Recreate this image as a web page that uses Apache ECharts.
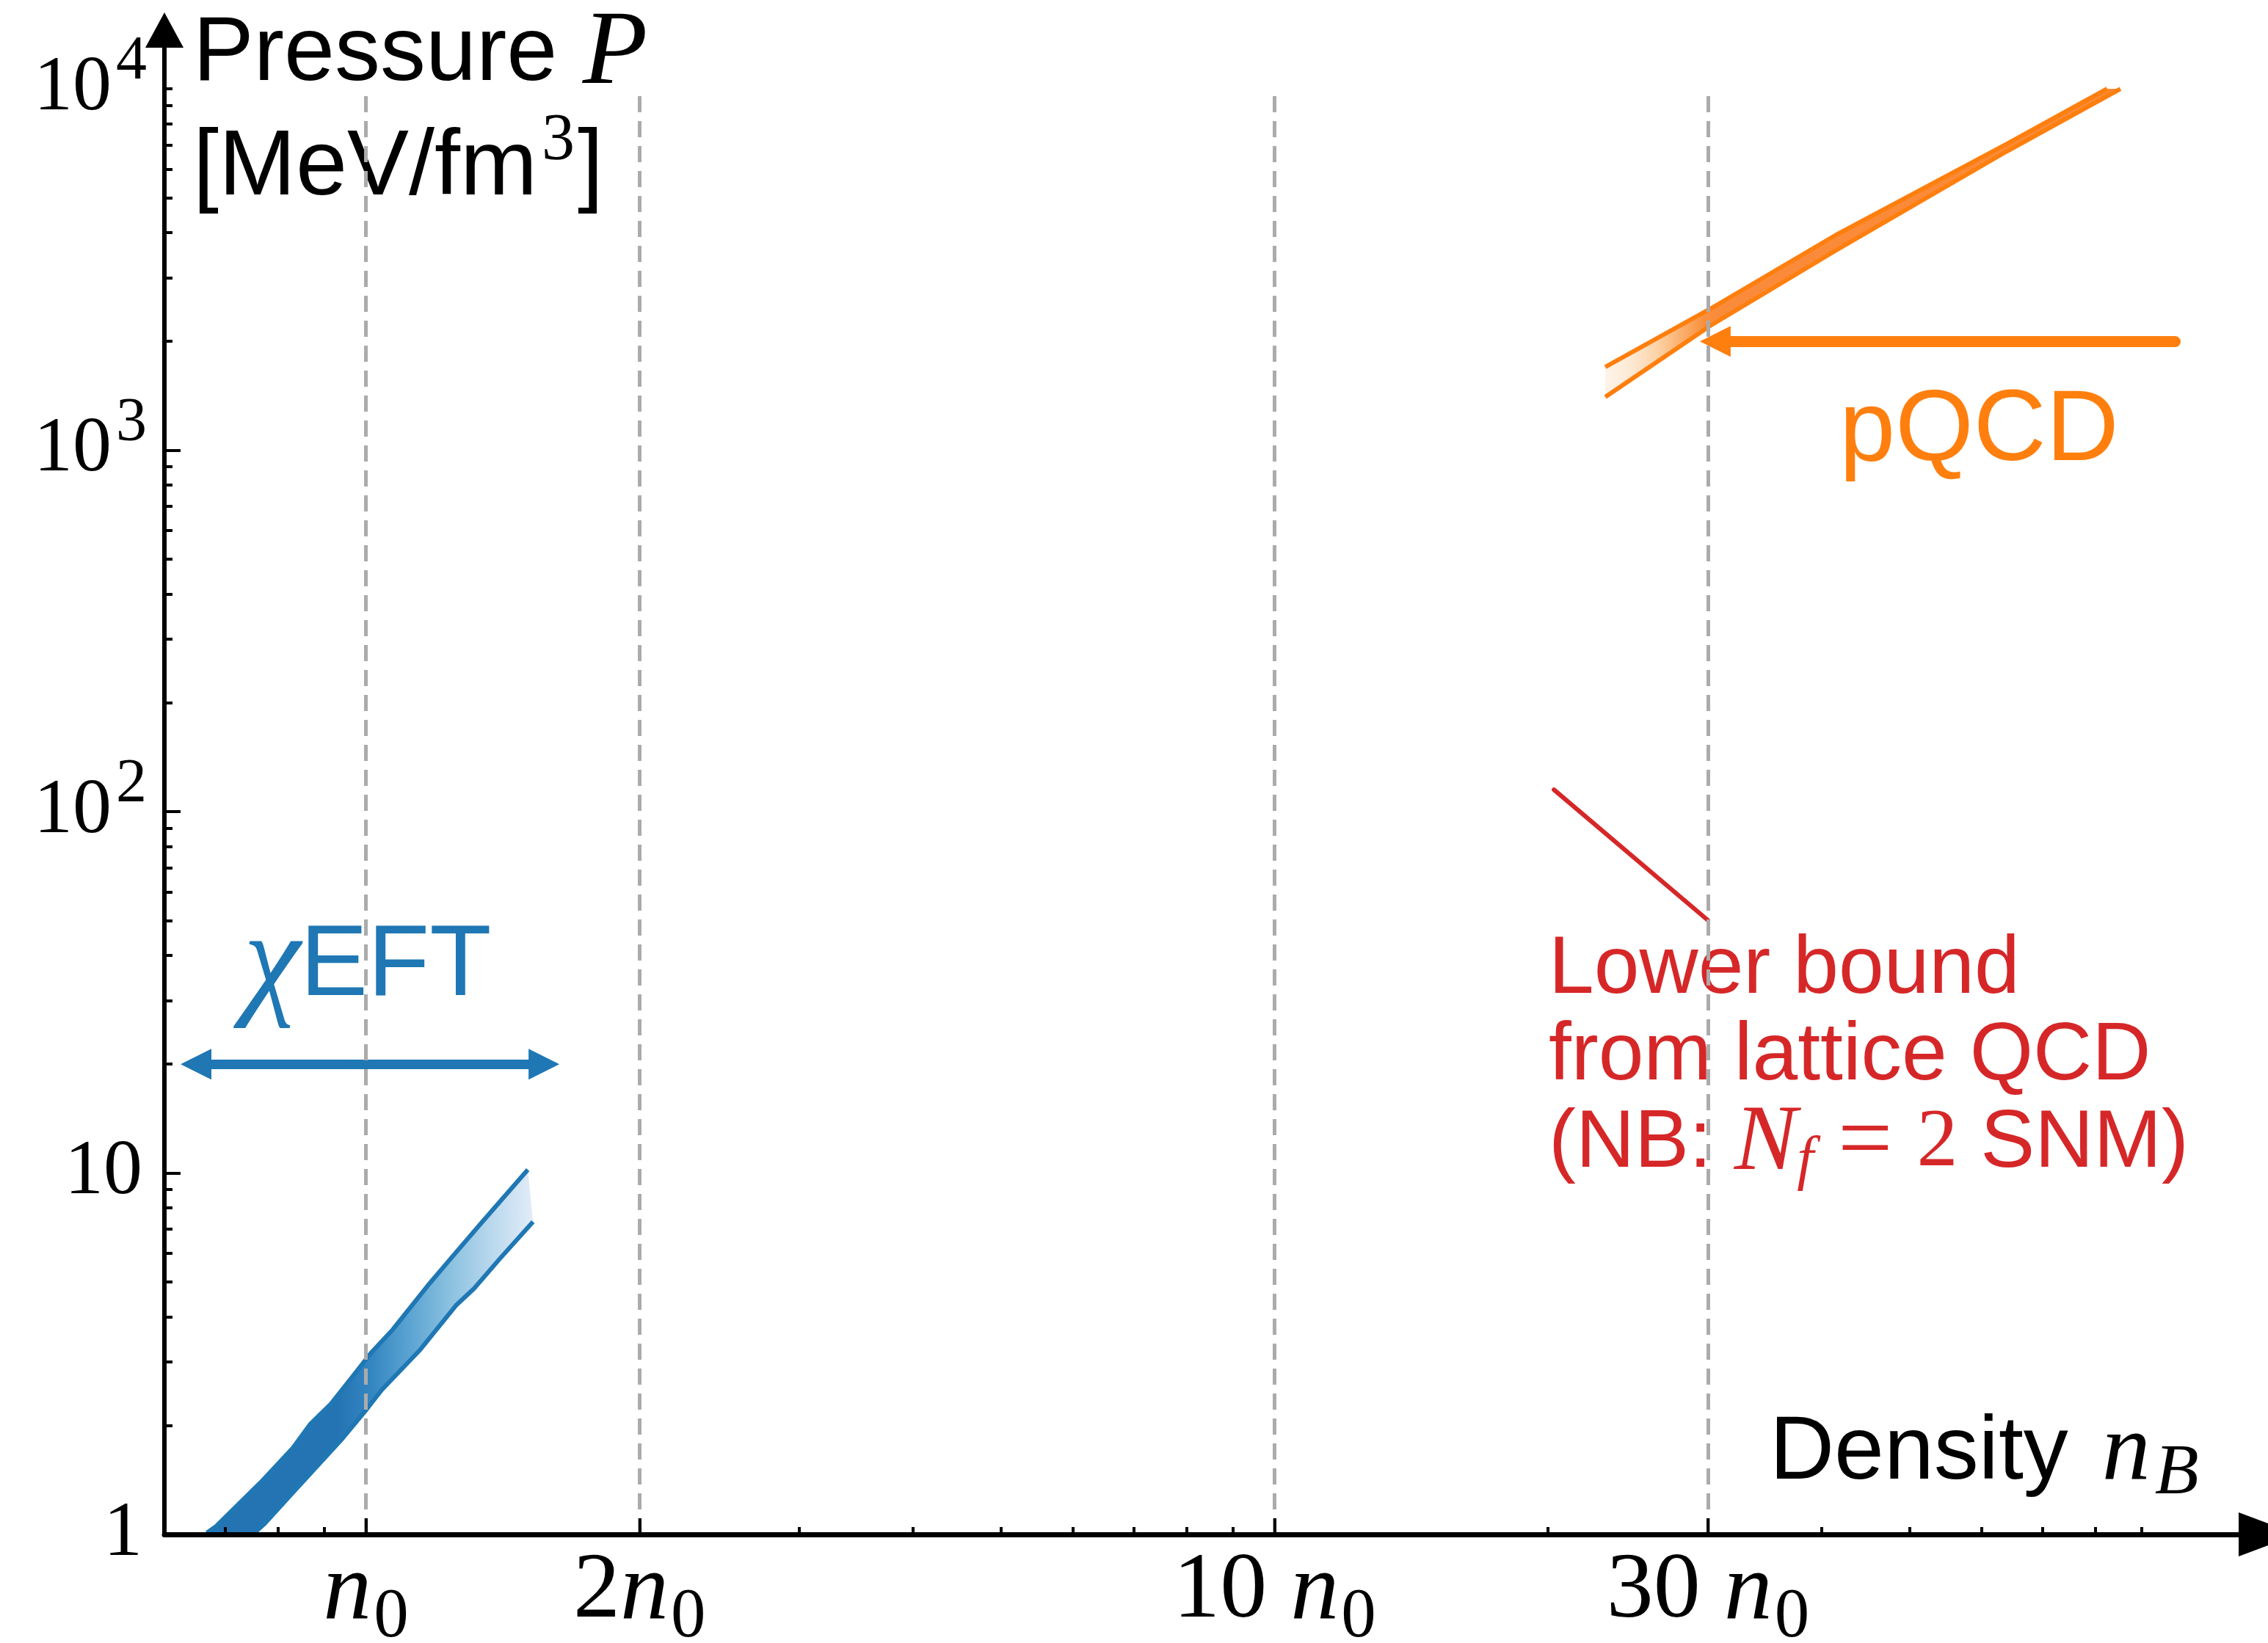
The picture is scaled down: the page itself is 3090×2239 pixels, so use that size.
<!DOCTYPE html>
<html><head><meta charset="utf-8">
<script src="https://cdn.jsdelivr.net/npm/echarts@6/dist/echarts.min.js"></script>
<style>html,body{margin:0;padding:0;background:#fff}#c{width:3090px;height:2239px}</style>
</head><body><div id="c"></div>
<script>
// ---------- data ----------
const xRange = [0.6, 124];          // density axis extent (units of n0)
const yRange = [1, 14536];          // pressure axis extent (MeV/fm^3)
const xMajorTicks = [1, 2, 10, 30];
const xTickLabels = ['{n|n}{s|0}', '{r|2}{n|n}{s|0}', '{r|10 }{n|n}{s|0}', '{r|30 }{n|n}{s|0}'];
const xMinorTicks = [0.7, 0.8, 0.9, 3, 4, 5, 6, 7, 8, 9, 20, 40, 50, 60, 70, 80, 90];
const yMajorTicks = [1, 10, 100, 1000];
const yLabelValues = [1, 10, 100, 1000, 10000];
const yTickLabels = ['{r|1}', '{r|10}', '{r|10}{s|2}', '{r|10}{s|3}', '{r|10}{s|4}'];
const yMinorTicks = [2, 3, 4, 5, 6, 7, 8, 9, 20, 30, 40, 50, 60, 70, 80, 90,
  200, 300, 400, 500, 600, 700, 800, 900, 2000, 3000, 4000, 5000, 6000, 7000, 8000, 9000, 10000];
const densityMarks = [1, 2, 10, 30];
const yTop = 10000;

const eftUpper = [[0.668, 1.01], [0.684, 1.053], [0.766, 1.394], [0.831, 1.736], [0.868, 2.017],
  [0.915, 2.298], [0.968, 2.746], [1.014, 3.189], [1.070, 3.686], [1.175, 4.948], [1.242, 5.83],
  [1.343, 7.33], [1.507, 10.21]];
const eftLower = [[0.754, 1.01], [0.774, 1.073], [0.831, 1.305], [0.938, 1.819], [1.001, 2.214],
  [1.041, 2.512], [1.148, 3.249], [1.256, 4.30], [1.315, 4.79], [1.402, 5.77], [1.527, 7.33]];
const pqcdUpper = [[23.12, 1700], [30.16, 2460], [41.38, 3926], [63.8, 7011], [82.5, 10000]];
const pqcdLower = [[23.12, 1404], [30.16, 2209], [41.38, 3558], [63.8, 6689], [85.3, 10000]];
const latticeBound = [[20.3, 115], [30, 50]];
const eftArrow = [[0.65, 20], [1.57, 20]];
const pqcdArrow = [[98, 2000], [30.55, 2000]];

// ---------- style ----------
const C0 = '#1f77b4', C1 = '#ff7f0e', C3 = '#d62728';
const serif = "'Liberation Serif', 'DejaVu Serif', serif";
const sans = "'Liberation Sans', Arial, sans-serif";

function nearestIndex(arr, v) {
  let best = 0, bd = Infinity;
  arr.forEach((t, i) => { const d = Math.abs(Math.log10(t) - Math.log10(v)); if (d < bd) { bd = d; best = i; } });
  return best;
}

function bandSeries(upper, lower, fill, z) {
  return {
    type: 'custom', coordinateSystem: 'cartesian2d', xAxisIndex: 0, yAxisIndex: 0,
    clip: true, silent: true, z: z,
    data: [upper[0]],
    renderItem: function (params, api) {
      const pts = upper.map(p => api.coord(p)).concat(lower.slice().reverse().map(p => api.coord(p)));
      return { type: 'polygon', shape: { points: pts }, style: { fill: fill, stroke: null, lineWidth: 0 } };
    }
  };
}
function edge(data, color, width) {
  return { type: 'line', data: data, symbol: 'none', showSymbol: false, silent: true, z: 4,
    lineStyle: { color: color, width: width, cap: 'butt', join: 'round' } };
}

const eftFill = new echarts.graphic.LinearGradient(0, 0, 1, 0, [
  { offset: 0, color: '#2474b3' }, { offset: 0.4, color: '#2474b3' }, { offset: 0.5, color: '#3385c0' },
  { offset: 0.62, color: '#5aa3d2' }, { offset: 0.75, color: '#8cc2e0' }, { offset: 0.88, color: '#bcd9ee' },
  { offset: 1, color: '#e2ecf8' }]);
const pqcdFill = new echarts.graphic.LinearGradient(0, 0, 1, 0, [
  { offset: 0, color: '#fef4ea' }, { offset: 0.05, color: '#fde9d4' }, { offset: 0.1, color: '#fcd3a8' },
  { offset: 0.15, color: '#faae6b' }, { offset: 0.19, color: '#f9913f' }, { offset: 0.22, color: '#fa8b3a' },
  { offset: 1, color: '#fb8a38' }]);

const option = {
  backgroundColor: '#fff',
  animation: false,
  grid: { left: 224, right: 0, top: 41, bottom: 148, containLabel: false, outerBoundsMode: 'none' },
  xAxis: [
    { type: 'log', logBase: 10, min: xRange[0], max: xRange[1], position: 'bottom', z: 10,
      axisLine: { show: true, onZero: false, symbol: ['none', 'triangle'], symbolSize: [60, 80],
        lineStyle: { color: '#000', width: 7 } },
      axisTick: { show: true, inside: true, length: 22, customValues: xMajorTicks, lineStyle: { color: '#000', width: 4 } },
      axisLabel: { show: true, customValues: xMajorTicks, margin: 14, color: '#000',
        formatter: v => xTickLabels[nearestIndex(xMajorTicks, v)],
        rich: {
          r: { fontFamily: serif, fontSize: 128, lineHeight: 128, verticalAlign: 'top', color: '#000' },
          n: { fontFamily: serif, fontStyle: 'italic', fontSize: 132, lineHeight: 128, verticalAlign: 'top', color: '#000' },
          s: { fontFamily: serif, fontSize: 95, lineHeight: 56, height: 56, verticalAlign: 'bottom', color: '#000', padding: [0, 0, 0, 3] }
        } },
      splitLine: { show: false }, minorTick: { show: false } },
    { type: 'log', logBase: 10, min: xRange[0], max: xRange[1], position: 'bottom', z: 10,
      axisLine: { show: false, onZero: false },
      axisTick: { show: true, inside: true, length: 10, customValues: xMinorTicks, lineStyle: { color: '#000', width: 4 } },
      axisLabel: { show: false }, splitLine: { show: false } }
  ],
  yAxis: [
    { type: 'log', logBase: 10, min: yRange[0], max: yRange[1], position: 'left', z: 10,
      axisLine: { show: true, onZero: false, symbol: ['none', 'triangle'], symbolSize: [52, 48],
        lineStyle: { color: '#000', width: 6 } },
      axisTick: { show: true, inside: true, length: 22, customValues: yMajorTicks, lineStyle: { color: '#000', width: 4 } },
      axisLabel: { show: true, customValues: yLabelValues, margin: 24, color: '#000',
        formatter: v => yTickLabels[nearestIndex(yLabelValues, v)],
        rich: {
          r: { fontFamily: serif, fontSize: 106, lineHeight: 106, verticalAlign: 'middle', color: '#000', padding: [0, 6, 0, 0] },
          s: { fontFamily: serif, fontSize: 84, lineHeight: 34, height: 34, verticalAlign: 'top', color: '#000' }
        } },
      splitLine: { show: false }, minorTick: { show: false } },
    { type: 'log', logBase: 10, min: yRange[0], max: yRange[1], position: 'left', z: 10,
      axisLine: { show: false, onZero: false },
      axisTick: { show: true, inside: true, length: 11, customValues: yMinorTicks, lineStyle: { color: '#000', width: 4 } },
      axisLabel: { show: false }, splitLine: { show: false } }
  ],
  series: [
    bandSeries(eftUpper, eftLower, eftFill, 2),
    bandSeries(pqcdUpper, pqcdLower, pqcdFill, 2),
    edge(eftUpper, C0, 6), edge(eftLower, C0, 6),
    edge(pqcdUpper, C1, 6), edge(pqcdLower, C1, 6),
    { type: 'line', data: latticeBound, symbol: 'none', showSymbol: false, silent: true, z: 4,
      lineStyle: { color: C3, width: 6, cap: 'round' } },
    { type: 'lines', coordinateSystem: 'cartesian2d', xAxisIndex: 0, yAxisIndex: 0, silent: true, z: 4,
      symbol: ['triangle', 'triangle'], symbolSize: 42,
      lineStyle: { color: C0, width: 13, opacity: 1, curveness: 0 },
      data: [{ coords: eftArrow }] },
    { type: 'lines', coordinateSystem: 'cartesian2d', xAxisIndex: 0, yAxisIndex: 0, silent: true, z: 4,
      symbol: ['none', 'triangle'], symbolSize: 42,
      lineStyle: { color: C1, width: 15, opacity: 1, curveness: 0, cap: 'round' },
      data: [{ coords: pqcdArrow }] },
    { type: 'line', data: [[densityMarks[0], yRange[0]]], symbol: 'none', showSymbol: false, silent: true, z: 6,
      lineStyle: { opacity: 0 },
      markLine: { silent: true, symbol: ['none', 'none'], label: { show: false }, animation: false,
        lineStyle: { color: '#ababab', width: 5, type: [22, 12] },
        data: densityMarks.map(v => [{ coord: [v, yRange[0]] }, { coord: [v, yTop] }]) } }
  ],
  graphic: [
    { type: 'text', x: 263, y: 75, z: 1, silent: true,
      style: { text: '{a|Pressure }{p|P}', align: 'left', verticalAlign: 'middle',
        rich: { a: { fontFamily: sans, fontSize: 124, lineHeight: 140, verticalAlign: 'middle', fill: '#000' },
                p: { fontFamily: serif, fontStyle: 'italic', fontSize: 145, lineHeight: 140, verticalAlign: 'middle', fill: '#000' } } } },
    { type: 'text', x: 263, y: 230, z: 1, silent: true,
      style: { text: '{a|[MeV/fm}{s|3}{a|]}', align: 'left', verticalAlign: 'middle',
        rich: { a: { fontFamily: sans, fontSize: 126, lineHeight: 140, verticalAlign: 'middle', fill: '#000' },
                s: { fontFamily: serif, fontSize: 90, lineHeight: 66, height: 66, verticalAlign: 'top', fill: '#000', padding: [0, 4, 0, 6] } } } },
    { type: 'text', x: 2411, y: 1981, z: 1, silent: true,
      style: { text: '{a|Density }{n|n}{b|B}', align: 'left', verticalAlign: 'middle',
        rich: { a: { fontFamily: sans, fontSize: 122, lineHeight: 140, verticalAlign: 'middle', fill: '#000' },
                n: { fontFamily: serif, fontStyle: 'italic', fontSize: 132, lineHeight: 140, verticalAlign: 'middle', fill: '#000', padding: [0, 0, 0, 12] },
                b: { fontFamily: serif, fontStyle: 'italic', fontSize: 98, lineHeight: 84, height: 84, verticalAlign: 'bottom', fill: '#000', padding: [0, 0, 0, 6] } } } },
    { type: 'text', x: 332, y: 1318, z: 1, silent: true,
      style: { text: '{c|χ}{a|EFT}', align: 'left', verticalAlign: 'middle',
        rich: { a: { fontFamily: sans, fontSize: 138, lineHeight: 150, verticalAlign: 'middle', fill: C0 },
                c: { fontFamily: serif, fontStyle: 'italic', fontSize: 175, lineHeight: 150, verticalAlign: 'middle', fill: C0 } } } },
    { type: 'text', x: 2506, y: 589, z: 1, silent: true,
      style: { text: 'pQCD', align: 'left', verticalAlign: 'middle', fontFamily: sans, fontSize: 137, fill: C1 } },
    { type: 'text', x: 2110, y: 1322, z: 1, silent: true,
      style: { text: 'Lower bound', align: 'left', verticalAlign: 'middle', fontFamily: sans, fontSize: 111, fill: C3 } },
    { type: 'text', x: 2110, y: 1440, z: 1, silent: true,
      style: { text: 'from lattice QCD', align: 'left', verticalAlign: 'middle', fontFamily: sans, fontSize: 111, fill: C3 } },
    { type: 'text', x: 2110, y: 1559, z: 1, silent: true,
      style: { text: '{a|(NB: }{m|N}{f|f}{q| = }{e|2}{a| SNM)}', align: 'left', verticalAlign: 'middle',
        rich: { a: { fontFamily: sans, fontSize: 111, lineHeight: 130, verticalAlign: 'middle', fill: C3 },
                m: { fontFamily: serif, fontStyle: 'italic', fontSize: 128, lineHeight: 130, verticalAlign: 'middle', fill: C3 },
                f: { fontFamily: serif, fontStyle: 'italic', fontSize: 82, lineHeight: 66, height: 82, verticalAlign: 'bottom', fill: C3 },
                q: { fontFamily: serif, fontSize: 132, lineHeight: 130, verticalAlign: 'middle', fill: C3 },
                e: { fontFamily: serif, fontSize: 112, lineHeight: 130, verticalAlign: 'middle', fill: C3 } } } }
  ]
};
const chart = echarts.init(document.getElementById('c'), null, { renderer: 'canvas' });
chart.setOption(option);
</script>
</body></html>
